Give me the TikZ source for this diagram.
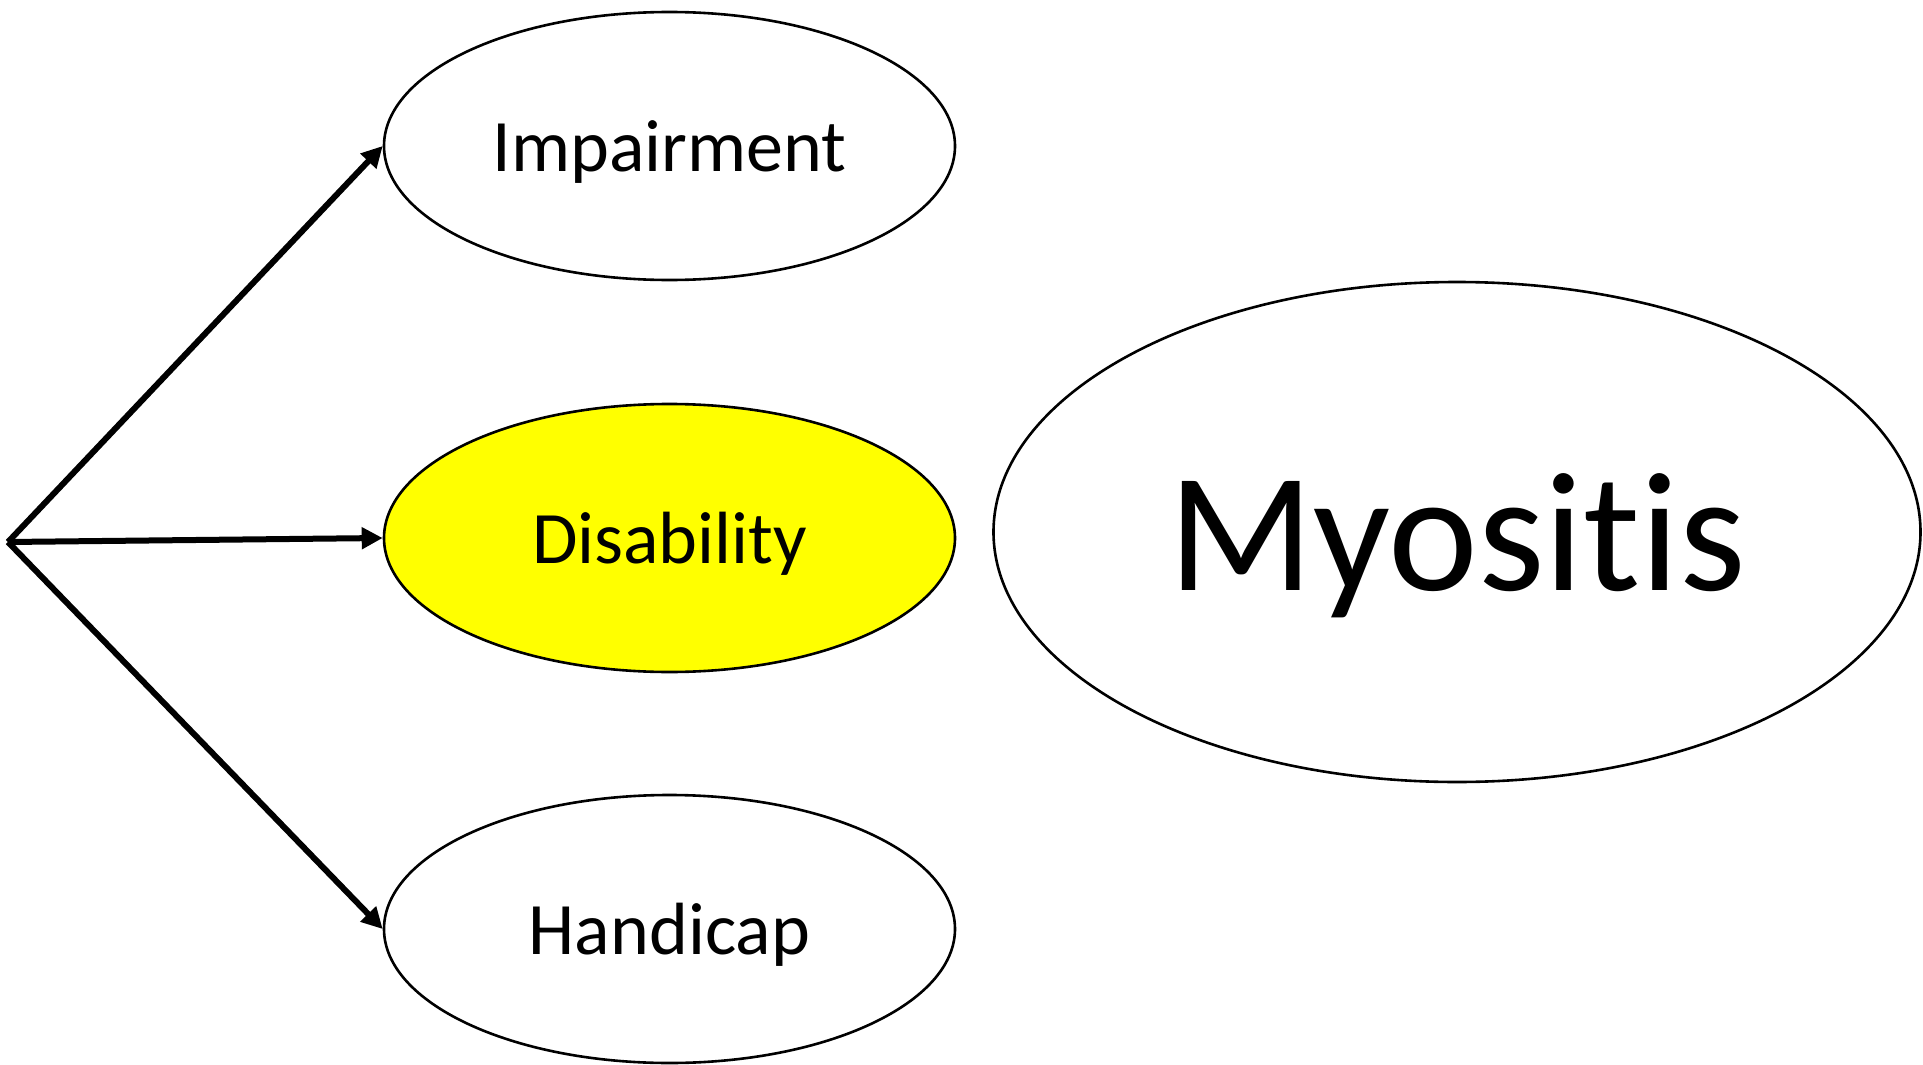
\documentclass[tikz,border=0pt]{standalone}
\usepackage{fontspec}
\setmainfont[Ligatures=NoCommon]{Carlito}
\usetikzlibrary{shapes.geometric,arrows.meta}
\definecolor{pureyellow}{RGB}{255,255,0}
\begin{document}
\begin{tikzpicture}[x=1pt,y=-1pt,
  oval/.style={ellipse,draw=black,line width=2.6pt,fill=white,inner sep=0pt},
  small/.style={font=\fontsize{74}{80}\selectfont,text height=60pt,text depth=9pt,minimum width=571pt,minimum height=268pt},
  big/.style={font=\fontsize{170}{180}\selectfont,text height=140pt,text depth=24pt,minimum width=927pt,minimum height=500pt},
  conn/.style={line width=6pt,-{Triangle[length=21pt,width=21pt]}}]
\useasboundingbox (0,0) rectangle (1923,1065);
\node[oval,small] (imp) at (669.5,146) {Impairment};
\node[oval,small,fill=pureyellow] (dis) at (669.5,538) {Disability};
\node[oval,small] (han) at (669.5,929) {Handicap};
\node[oval,big] (myo) at (1457,532) {Myositis};
\coordinate (src) at (8,542);
\draw[conn] (src) -- (imp.west);
\draw[conn] (src) -- (dis.west);
\draw[conn] (src) -- (han.west);
\end{tikzpicture}
\end{document}
